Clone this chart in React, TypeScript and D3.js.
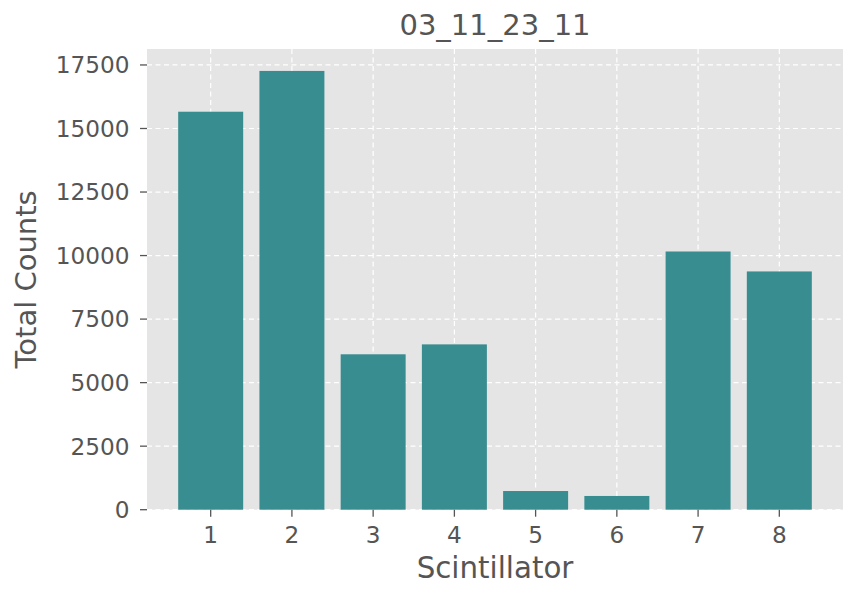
import React from "react";
import * as d3 from "d3";

const categories = ["1", "2", "3", "4", "5", "6", "7", "8"];
const counts = [15660, 17265, 6115, 6505, 735, 540, 10160, 9375];
const yTicks = [0, 2500, 5000, 7500, 10000, 12500, 15000, 17500];
const title = "03_11_23_11";

export default function App() {
  const W = 858, H = 601;
  const left = 147, right = 843, top = 49, bottom = 509.7;
  const x = d3.scaleLinear().domain([0.216, 8.784]).range([left, right]);
  const y = d3.scaleLinear().domain([0, 18128]).range([bottom, top]);
  const bw = x(1.4) - x(0.6);
  const font = "DejaVu Sans, sans-serif";
  const dash = "5,3.5";
  const tickLen = 7;
  return (
    <svg width={W} height={H} style={{ position: "absolute", left: 0, top: 0 }} fontFamily={font}>
      <rect x={0} y={0} width={W} height={H} fill="white" />
      <rect x={left} y={top} width={right - left} height={bottom - top} fill="#E5E5E5" />
      {yTicks.map((t) => (
        <line key={"gy" + t} x1={left} x2={right} y1={y(t)} y2={y(t)} stroke="white" strokeWidth={1.2} strokeDasharray={dash} />
      ))}
      {categories.map((c, i) => (
        <line key={"gx" + c} x1={x(i + 1)} x2={x(i + 1)} y1={top} y2={bottom} stroke="white" strokeWidth={1.2} strokeDasharray={dash} />
      ))}
      {counts.map((v, i) => (
        <rect key={"b" + i} x={x(i + 1) - bw / 2} y={y(v)} width={bw} height={y(0) - y(v)} fill="#388d91" />
      ))}
      {yTicks.map((t) => (
        <g key={"ty" + t}>
          <line x1={left - tickLen} x2={left} y1={y(t)} y2={y(t)} stroke="#555" strokeWidth={1.3} />
          <text x={left - 17.5} y={y(t)} dy="0.36em" textAnchor="end" fontSize={23.2} fill="#555">{t}</text>
        </g>
      ))}
      {categories.map((c, i) => (
        <g key={"tx" + c}>
          <line x1={x(i + 1)} x2={x(i + 1)} y1={bottom} y2={bottom + tickLen} stroke="#555" strokeWidth={1.3} />
          <text x={x(i + 1)} y={543} textAnchor="middle" fontSize={23.2} fill="#555">{c}</text>
        </g>
      ))}
      <text x={(left + right) / 2} y={35} textAnchor="middle" fontSize={29} fill="#555">{title}</text>
      <text x={(left + right) / 2} y={578} textAnchor="middle" fontSize={29.3} fill="#555">Scintillator</text>
      <text transform={`translate(35.5,${(top + bottom) / 2}) rotate(-90)`} textAnchor="middle" fontSize={29} fill="#555">Total Counts</text>
    </svg>
  );
}
